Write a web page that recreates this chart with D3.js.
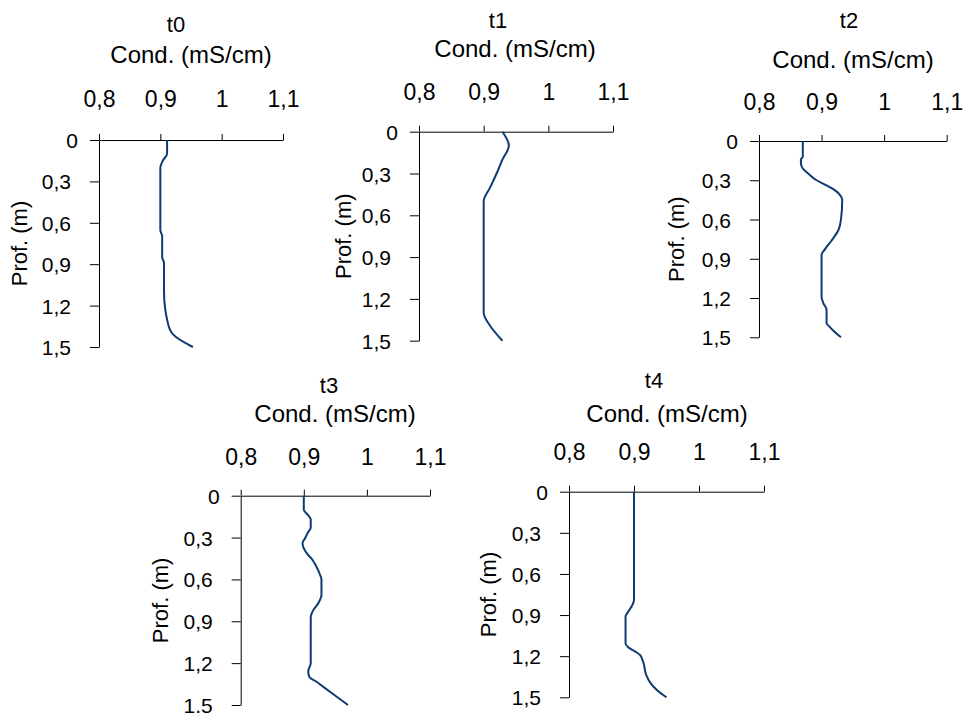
<!DOCTYPE html>
<html>
<head>
<meta charset="utf-8">
<script src="https://cdn.jsdelivr.net/npm/d3@7"></script>
<style>
  html, body { margin: 0; padding: 0; background: #ffffff; }
  svg { display: block; font-family: "Liberation Sans", Arial, sans-serif; }
</style>
</head>
<body>
<svg id="chart" width="964" height="713"></svg>
<script>
// Conductivity profiles (mS/cm) against depth (m) for five sampling times.
const seriesNames = ["t0", "t1", "t2", "t3", "t4"];

const t0Depth = [0, 0.1, 0.15, 0.2, 0.65, 0.7, 0.85, 0.89, 1.1, 1.34, 1.4, 1.43, 1.5];
const t0Cond  = [0.911, 0.911, 0.904, 0.900, 0.900, 0.903, 0.903, 0.906, 0.906, 0.913, 0.919, 0.926, 0.953];

const t1Depth = [0, 0.1, 0.2, 0.3, 0.4, 0.5, 1.3, 1.4, 1.5];
const t1Cond  = [0.929, 0.939, 0.929, 0.920, 0.910, 0.900, 0.900, 0.911, 0.929];

const t2Depth = [0, 0.12, 0.14, 0.17, 0.21, 0.25, 0.3, 0.34, 0.375, 0.41, 0.45, 0.6, 0.68, 0.76, 0.83, 0.87, 1.19, 1.24, 1.29, 1.39, 1.42, 1.46, 1.5];
const t2Cond  = [0.870, 0.870, 0.867, 0.867, 0.870, 0.879, 0.892, 0.908, 0.921, 0.929, 0.933, 0.931, 0.927, 0.916, 0.905, 0.900, 0.900, 0.903, 0.908, 0.908, 0.913, 0.921, 0.931];

const t3Depth = [0, 0.10, 0.14, 0.17, 0.23, 0.26, 0.305, 0.34, 0.377, 0.425, 0.45, 0.5, 0.57, 0.6, 0.71, 0.77, 0.82, 0.87, 1.2, 1.23, 1.26, 1.3, 1.33, 1.37, 1.5];
const t3Cond  = [0.900, 0.900, 0.907, 0.911, 0.911, 0.907, 0.902, 0.898, 0.900, 0.907, 0.912, 0.919, 0.926, 0.928, 0.928, 0.923, 0.915, 0.911, 0.911, 0.909, 0.907, 0.909, 0.919, 0.931, 0.970];

const t4Depth = [0, 0.79, 0.84, 0.89, 0.91, 1.106, 1.135, 1.167, 1.19, 1.24, 1.34, 1.4, 1.45, 1.5];
const t4Cond  = [0.900, 0.900, 0.896, 0.889, 0.887, 0.887, 0.891, 0.902, 0.909, 0.914, 0.919, 0.926, 0.936, 0.950];

const condTicks  = [0.8, 0.9, 1.0, 1.1];
const depthTicks = [0, 0.3, 0.6, 0.9, 1.2, 1.5];

const xTitle = "Cond. (mS/cm)";
const yTitle = "Prof. (m)";

const depths = [t0Depth, t1Depth, t2Depth, t3Depth, t4Depth];
const conds  = [t0Cond, t1Cond, t2Cond, t3Cond, t4Cond];

// Panel placement on the page (plot box and label anchors).
const layout = [
  { x0: 99,    x1: 283,   y0: 140,   y1: 347,   titleX: 176, titleY: 31.7,  condX: 191, condY: 63.3,  tickY: 107.3, profX: 27  },
  { x0: 419,   x1: 613,   y0: 131.7, y1: 340.7, titleX: 498, titleY: 28.3,  condX: 515, condY: 56.7,  tickY: 100,   profX: 351 },
  { x0: 759,   x1: 946.7, y0: 141,   y1: 337.3, titleX: 849, titleY: 28.3,  condX: 853, condY: 68.3,  tickY: 110,   profX: 684 },
  { x0: 240.7, x1: 430,   y0: 495.7, y1: 705,   titleX: 329, titleY: 393.3, condX: 335, condY: 421.7, tickY: 465,   profX: 168 },
  { x0: 569,   x1: 764,   y0: 491.7, y1: 697.3, titleX: 654, titleY: 388.3, condX: 667, condY: 421.7, tickY: 460,   profX: 496 }
];

const locale = d3.formatLocale({ decimal: ",", thousands: ".", grouping: [3], currency: ["", ""] });
const fmt = locale.format(".1~f");

const lineColor = "#0d3b72";
const svg = d3.select("#chart");

seriesNames.forEach((name, i) => {
  const L = layout[i];
  const x = d3.scaleLinear().domain([0.8, 1.1]).range([L.x0, L.x1]);
  const y = d3.scaleLinear().domain([0, 1.5]).range([L.y0, L.y1]);
  const g = svg.append("g");

  // top conductivity axis
  const xAxis = g.append("g")
    .attr("transform", `translate(0,${L.y0})`)
    .call(d3.axisTop(x).tickValues(condTicks).tickFormat(fmt).tickSize(6).tickSizeOuter(0));
  xAxis.selectAll("text")
    .attr("y", L.tickY - L.y0)
    .attr("dy", null)
    .style("font-size", "23px")
    .attr("fill", "#000");

  // left depth axis; the integer label sits closer to its tick
  const yAxis = g.append("g")
    .attr("transform", `translate(${L.x0},0)`)
    .call(d3.axisLeft(y).tickValues(depthTicks).tickFormat(fmt).tickSize(9).tickSizeOuter(0));
  yAxis.selectAll("text")
    .attr("x", d => (d === 0 ? -21 : -28))
    .attr("dy", "0.36em")
    .style("font-size", "21px")
    .attr("fill", "#000");

  g.selectAll(".domain, .tick line").attr("stroke", "#000").attr("stroke-width", 1);
  g.selectAll(".tick text").style("font-family", "'Liberation Sans', Arial, sans-serif");

  // profile line
  const pts = depths[i].map((d, k) => ({ d, c: conds[i][k] }));
  g.append("path")
    .datum(pts)
    .attr("fill", "none")
    .attr("stroke", lineColor)
    .attr("stroke-width", 2)
    .attr("stroke-linejoin", "round")
    .attr("d", d3.line().x(p => x(p.c)).y(p => y(p.d)).curve(d3.curveMonotoneY));

  // titles
  g.append("text")
    .attr("x", L.titleX).attr("y", L.titleY)
    .attr("text-anchor", "middle")
    .style("font-size", "22px")
    .text(name);

  g.append("text")
    .attr("x", L.condX).attr("y", L.condY)
    .attr("text-anchor", "middle")
    .style("font-size", "24px")
    .text(xTitle);

  g.append("text")
    .attr("transform", `translate(${L.profX},${(L.y0 + L.y1) / 2}) rotate(-90)`)
    .attr("text-anchor", "middle")
    .style("font-size", "22px")
    .text(yTitle);
});
</script>
</body>
</html>
